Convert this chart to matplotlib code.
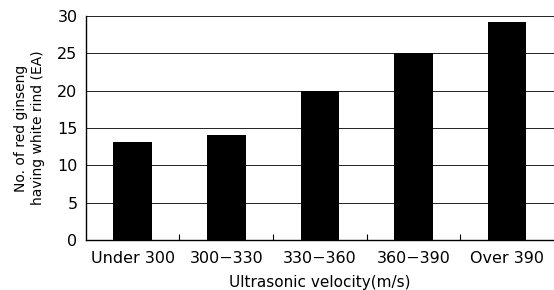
import matplotlib
matplotlib.use('Agg')
from matplotlib import pyplot as plt
import numpy as np

# data
categories = ['Under 300', '300-330', '330-360', '360-390', 'Over 390']
counts = [13.1, 14.1, 20.0, 25.0, 29.2]
yticks = [0, 5, 10, 15, 20, 25, 30]

plt.rcParams['font.family'] = ['DejaVu Sans']

fig = plt.figure(figsize=(5.54, 2.90), dpi=100)
ax = fig.add_axes([0.155, 0.172, 0.845, 0.773])

x = np.arange(len(categories))
ax.bar(x, counts, width=0.41, color='black', zorder=3)

# grid lines across the plot
for y in yticks[1:]:
    ax.axhline(y, color='#222222', lw=0.7, zorder=1)

ax.set_xlim(-0.5, len(categories) - 0.5)
ax.set_ylim(0, 30)
ax.set_yticks(yticks)
ax.set_xticks(x)
ax.set_xticklabels([c.replace('-', '\u2212') for c in categories], fontsize=11.5)
ax.set_xticks(x[:-1] + 0.5, minor=True)
ax.tick_params(axis='x', which='major', length=0, pad=8)
ax.tick_params(axis='x', which='minor', direction='in', length=4, width=0.8)
ax.tick_params(axis='y', length=0, labelsize=11.5, pad=6)

for s in ['top', 'right']:
    ax.spines[s].set_visible(False)
ax.spines['left'].set_linewidth(1.0)
ax.spines['bottom'].set_linewidth(1.0)

ax.set_ylabel('No. of red ginseng\nhaving white rind (EA)', fontsize=10, labelpad=9)
ax.set_xlabel('Ultrasonic velocity(m/s)', fontsize=11, labelpad=6)

plt.savefig('out.png', dpi=100)
